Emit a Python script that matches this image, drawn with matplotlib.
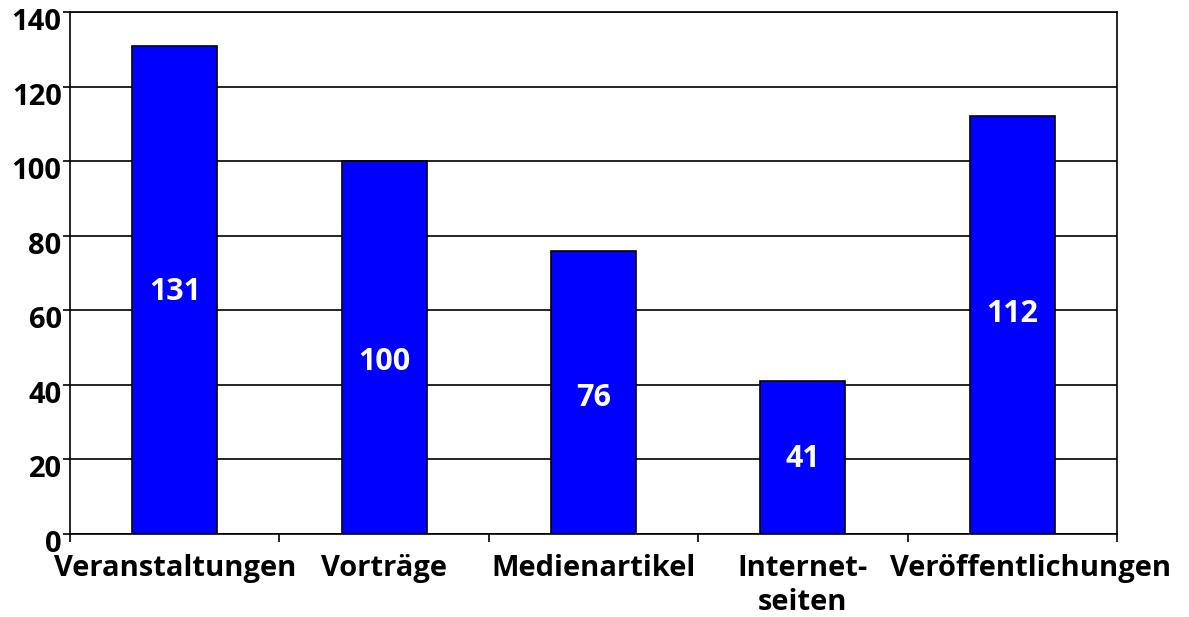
import matplotlib.pyplot as plt
import matplotlib.transforms as mtransforms
import numpy as np

# categories and counts
categories = ["Veranstaltungen", "Vorträge", "Medienartikel", "Internet-\nseiten", "Veröffentlichungen"]
counts = [131, 100, 76, 41, 112]
# vertical placement of the value labels inside the bars
label_y = [65, 46, 36.5, 20, 59]
# the last label is nudged right so it does not run into its neighbour
label_shift = [0, 0, 0, 0, 0.085]

plt.rcParams['font.family'] = ['Open Sans', 'DejaVu Sans']
plt.rcParams['font.weight'] = 'bold'

fig = plt.figure(figsize=(11.89, 6.17), dpi=100)
ax = fig.add_axes([70/1189, 1 - 534/617, (1117-70)/1189, (534-12)/617])

x = np.arange(len(categories))
ax.set_axisbelow(True)
ax.yaxis.grid(True, color='black', linewidth=1.2)
ax.bar(x, counts, width=0.405, color='#0000ff', edgecolor='black', linewidth=1.2, zorder=3)

for xi, v, ly in zip(x, counts, label_y):
    ax.text(xi, ly, str(v), ha='center', va='center', color='white',
            fontsize=22, fontweight='bold', zorder=4)

ax.set_xlim(-0.5, len(categories) - 0.5)
ax.set_ylim(0, 140)
ax.set_yticks(range(0, 141, 20))
ax.tick_params(axis='y', labelsize=21, length=5, width=1.2, pad=1)
# y labels sit a little below their gridlines
shift_down = mtransforms.ScaledTranslation(0, -7/100, fig.dpi_scale_trans)
for lbl in ax.get_yticklabels():
    lbl.set_transform(lbl.get_transform() + shift_down)

# tick marks sit on category boundaries, labels on centers
ax.set_xticks(np.arange(-0.5, len(categories), 1.0))
ax.set_xticklabels([])
ax.tick_params(axis='x', length=6, width=1.2)
for xi, dx, name in zip(x, label_shift, categories):
    ax.text(xi + dx, -5.4, name, ha='center', va='top', fontsize=21,
            fontweight='bold', linespacing=1.2)

for s in ax.spines.values():
    s.set_linewidth(1.2)

plt.savefig("out.png", dpi=100)
